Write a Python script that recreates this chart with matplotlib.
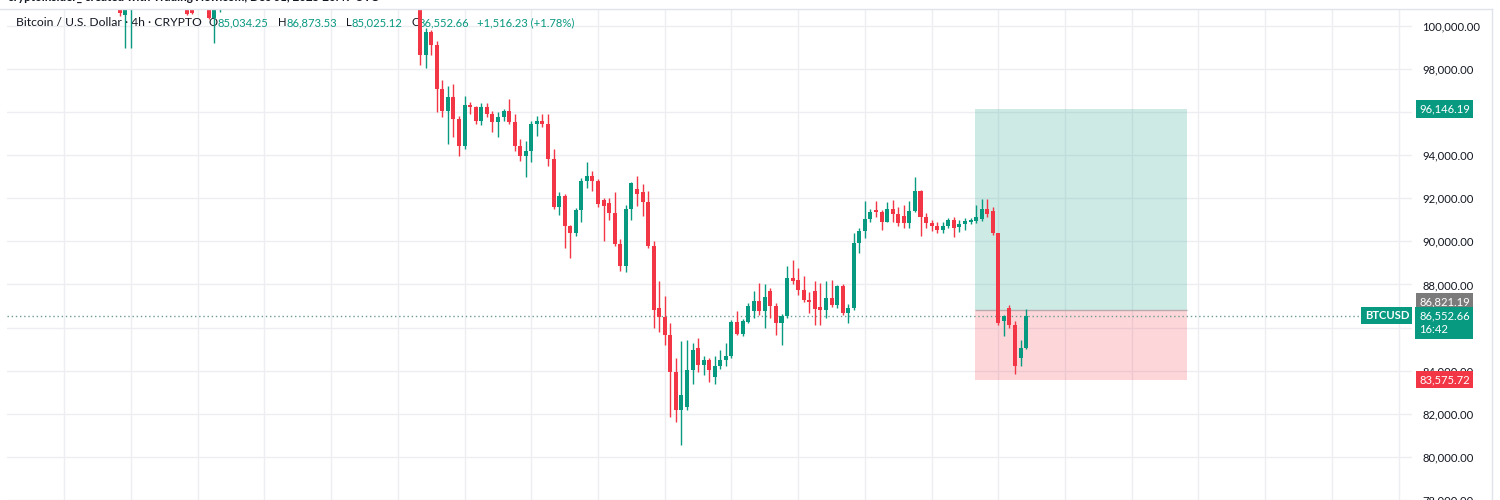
import matplotlib
matplotlib.use('Agg')
import matplotlib.pyplot as plt
import matplotlib.transforms as mtransforms
from matplotlib.lines import Line2D
import numpy as np

plt.rcParams['font.family'] = ['Lato', 'DejaVu Sans']

GREEN = '#089981'
RED = '#F23645'
TXT = '#131722'

# 4h свечи BTCUSD, номер бара (0 - первая свеча, видимая целиком)
bars = [-54, -53, -52, -42, -41, -38, -37, -36] + list(range(110))
opens = [101300, 100500, 100900, 101100, 100900, 101200, 100370, 101000,
         101200, 98660, 99724, 99124, 97050, 96037, 96682, 95668, 94424, 96313,
         96220, 95576, 96220, 95900, 95530, 95760, 96037, 95530, 94424, 93963,
         94194, 95438, 95576, 95440, 93825, 91613, 92120, 90691, 90369, 91475,
         92811, 93041, 92811, 91900, 91800, 91336, 89862, 88848, 91521, 92450,
         92300, 91843, 89770, 86900, 86500, 85668, 83917, 82166, 82300, 84055,
         85069, 84286, 84500, 83700, 84240, 84516, 84700, 86267, 85714, 86267,
         86774, 87235, 86774, 87696, 87005, 86221, 86544, 88295, 88200, 87742,
         87300, 87696, 86950, 86820, 87373, 87051, 87926, 86700, 86900, 89908,
         90461, 91060, 91450, 91382, 90922, 91521, 91290, 91200, 90830, 91428,
         92350, 91152, 90830, 90700, 90507, 90700, 91014, 90650, 90800, 90900,
         90950, 91060, 91521, 91428, 90369, 86313, 86912, 86129, 84608, 85034.25]
highs = [101500, 101400, 101500, 101300, 101200, 101400, 101300, 101600,
         101600, 99900, 99820, 99300, 97500, 97189, 97280, 95800, 96728, 96450,
         96300, 96400, 96400, 96040, 96000, 96130, 96590, 95900, 94750, 94650,
         95570, 95806, 95900, 95900, 94286, 92304, 92212, 90783, 91550, 92949,
         93687, 93270, 92900, 92000, 92000, 92304, 90100, 91700, 92750, 93050,
         92650, 92350, 90000, 88157, 87465, 86221, 84608, 85392, 85438, 85300,
         85530, 84700, 84600, 84700, 84977, 85300, 86350, 86774, 86400, 87143,
         87696, 88065, 88018, 87830, 87143, 86636, 88848, 89124, 88756, 88387,
         87650, 88157, 88065, 88157, 88200, 87970, 88000, 87100, 90369, 90600,
         91889, 91521, 91889, 91450, 91843, 91900, 91600, 91700, 91889, 92995,
         92400, 91300, 91000, 90900, 90900, 91100, 91150, 91000, 91100, 91100,
         91700, 91982, 91950, 91613, 90400, 86590, 87051, 86313, 85438, 86873.53]
lows = [100450, 98986, 98990, 100500, 100550, 100300, 99217, 100650,
        98200, 98065, 98660, 96000, 95760, 94516, 94839, 93963, 94300, 95900,
        95450, 95400, 95750, 95070, 94840, 95580, 95440, 94200, 93733, 93000,
        93687, 94885, 95300, 93500, 91521, 91244, 89677, 89216, 90250, 90922,
        92488, 92350, 91613, 90000, 91000, 89800, 88618, 88600, 91000, 91650,
        91200, 89677, 85991, 85800, 85207, 81843, 81613, 80553, 82166, 83364,
        83917, 83800, 83456, 83400, 84100, 84240, 84600, 85668, 85600, 86200,
        86451, 86600, 85991, 86451, 85668, 85207, 86451, 88000, 87500, 87200,
        86700, 86129, 86129, 86451, 86950, 86900, 86590, 86200, 86800, 89447,
        90138, 90922, 91150, 90507, 90900, 90900, 90700, 90600, 90600, 91382,
        90230, 90600, 90500, 90400, 90400, 90600, 90200, 90450, 90550, 90800,
        90850, 90950, 91150, 90276, 86129, 85622, 85991, 83825, 84240, 85025.12]
closes = [100600, 101200, 101300, 100550, 100600, 100370, 101000, 101400,
          98660, 99724, 99124, 97050, 96037, 96682, 95668, 94424, 96313, 96220,
          95576, 96220, 95900, 95530, 95760, 96037, 95530, 94424, 93963, 94194,
          95438, 95576, 95440, 93825, 91613, 92120, 90691, 90369, 91475, 92811,
          93041, 92811, 91751, 91650, 91336, 89862, 88848, 91521, 92719, 92200,
          91843, 89770, 86820, 86500, 85668, 83917, 82166, 82857, 84055, 84977,
          84286, 84516, 84009, 84240, 84516, 84700, 86267, 85714, 86313, 87005,
          87235, 86774, 87419, 87005, 86221, 86544, 88295, 88157, 87742, 87281,
          87200, 86866, 86820, 87373, 87051, 87926, 86682, 86900, 89908, 90461,
          91060, 91382, 91350, 90922, 91521, 91290, 90830, 90830, 91428, 92350,
          91152, 90830, 90700, 90507, 90700, 91014, 90600, 90800, 90950, 91000,
          91150, 91521, 91250, 90369, 86221, 86544, 86129, 84240, 85036, 86552.66]

price_ticks = list(range(78000, 100001, 2000))
hidden_ticks = [96000, 86000]  # закрыты метками позиции и текущей цены
day_bars = list(range(-64, 180, 12))

# long-позиция
pos_bars = (99.85, 138.0)
entry_price = 86821.19
target_price = 96146.19
stop_price = 83575.72
countdown = '16:42'

fig = plt.figure(figsize=(15, 5), dpi=100)
ax = fig.add_axes([7 / 1500, 0, 1405 / 1500, 491 / 500])
ax.set_xlim(-74.3, 178.4)
ax.set_ylim(78157, 100783)

for s in ax.spines.values():
    s.set_visible(False)
ax.set_xticks(day_bars)
ax.set_yticks(price_ticks)
ax.grid(True, color='#eceef2', lw=1)
ax.set_axisbelow(True)
ax.tick_params(axis='x', length=0, labelbottom=False)
ax.yaxis.tick_right()
ax.tick_params(axis='y', length=0, pad=7.5, labelsize=8.1, labelcolor=TXT)
ax.set_yticklabels(['' if p in hidden_ticks else '{:,.2f}'.format(p) for p in price_ticks])

# свечи
o = np.array(opens)
h = np.array(highs)
l = np.array(lows)
c = np.array(closes)
col = np.where(c >= o, GREEN, RED)
ax.vlines(bars, l, h, colors=col, lw=1, zorder=3)
ax.bar(bars, np.maximum(np.abs(c - o), 45), bottom=np.minimum(o, c),
       width=0.72, color=col, lw=0, zorder=3)

# позиция
x0, x1 = pos_bars
ax.fill_between([x0, x1], entry_price, target_price, color=GREEN, alpha=0.2, lw=0, zorder=1)
ax.fill_between([x0, x1], stop_price, entry_price, color=RED, alpha=0.2, lw=0, zorder=1)
ax.hlines(entry_price, x0, x1, color='#a09a9a', lw=1, alpha=0.7, zorder=1.5)

last = closes[-1]
ax.axhline(last, color='#6e9c94', ls=(0, (1, 2)), lw=1, zorder=2)

# метки на шкале цен
blend = mtransforms.blended_transform_factory(ax.transAxes, ax.transData)
xl = (1419 - 7) / 1405
lab = dict(fontsize=8.1, color='white', va='center', ha='left', zorder=5,
           annotation_clip=False)
ax.annotate('{:,.2f}'.format(target_price), xy=(xl, target_price), xycoords=blend,
            bbox=dict(boxstyle='square,pad=0.28', fc=GREEN, ec='none'), **lab)
ax.annotate('{:,.2f}'.format(entry_price), xy=(xl, entry_price), xycoords=blend,
            xytext=(0, 8), textcoords='offset pixels',
            bbox=dict(boxstyle='square,pad=0.28', fc='#7b7b7b', ec='none'), **lab)
ax.annotate('{:,.2f}'.format(stop_price), xy=(xl, stop_price), xycoords=blend,
            bbox=dict(boxstyle='square,pad=0.28', fc=RED, ec='none'), **lab)
cur = dict(lab)
cur['va'] = 'top'
ax.annotate('{:,.2f}\n{}'.format(last, countdown), xy=(xl, last), xycoords=blend,
            xytext=(0, 5), textcoords='offset pixels', linespacing=1.3,
            bbox=dict(boxstyle='square,pad=0.32', fc=GREEN, ec='none'), **cur)
ax.annotate('BTCUSD', xy=((1409 - 7) / 1405, last), xycoords=blend,
            fontsize=8.1, color='white', va='center', ha='right', zorder=5,
            annotation_clip=False, fontweight='bold',
            bbox=dict(boxstyle='square,pad=0.28', fc=GREEN, ec='none'))

# легенда
t = ax.text(16 / 1500, 1 - 28 / 500, 'Bitcoin / U.S. Dollar · 4h · CRYPTO',
            transform=fig.transFigure, fontsize=8.7, color=TXT, va='bottom', zorder=2.5)
pieces = [('O', TXT, 7), ('85,034.25', GREEN, 0), ('H', TXT, 9), ('86,873.53', GREEN, 0),
          ('L', TXT, 9), ('85,025.12', GREEN, 0), ('C', TXT, 9), ('86,552.66', GREEN, 0),
          ('+1,516.23 (+1.78%)', GREEN, 8)]
for s, cl, gap in pieces:
    t = ax.annotate(s, xy=(1, 0), xycoords=t, xytext=(gap, 0), textcoords='offset pixels',
                    fontsize=8.1, color=cl, va='bottom', ha='left', zorder=2.5)

fig.text(8 / 1500, 1 - 1.2 / 500, 'cryptoinsider_ created with TradingView.com, Dec 01, 2025 20:49 UTC',
         fontsize=8.4, color=TXT, va='baseline', fontweight='bold')

# рамка панели
fig.add_artist(Line2D([0, 1492 / 1500], [1 - 8.5 / 500] * 2, color='#e0e3eb', lw=1))
fig.add_artist(Line2D([1492 / 1500] * 2, [0, 1 - 8.5 / 500], color='#e0e3eb', lw=1))

fig.savefig('out.png', dpi=100, facecolor='white')
